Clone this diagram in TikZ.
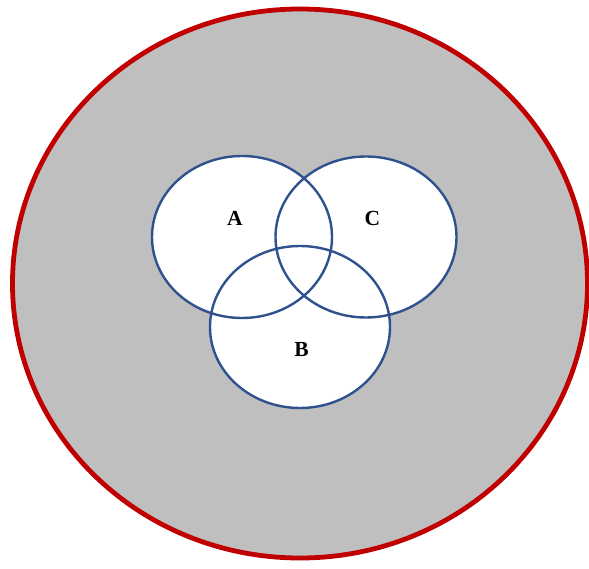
\documentclass[tikz,border=0pt]{standalone}
\usepackage{fontspec}
\setmainfont{Liberation Serif}
\definecolor{outerred}{RGB}{192,0,0}
\definecolor{setblue}{RGB}{47,82,143}
\definecolor{bggray}{RGB}{191,191,191}
\begin{document}
\begin{tikzpicture}[x=1pt,y=-1pt,
  setline/.style={draw=setblue,line width=2.4pt},
  setlabel/.style={font=\bfseries\fontsize{21.5}{23}\selectfont,inner sep=0pt}]
\useasboundingbox (0,0) rectangle (589,569);
\draw[fill=bggray,draw=outerred,line width=4.8pt] (300,283.5) ellipse [x radius=287.5, y radius=274.5];
% white fills
\fill[white] (242,237) ellipse [x radius=90, y radius=81];
\fill[white] (366,237) ellipse [x radius=90.5, y radius=80.5];
\fill[white] (300,327) ellipse [x radius=90, y radius=81];
% outlines
\draw[setline] (242,237) ellipse [x radius=90, y radius=81];
\draw[setline] (366,237) ellipse [x radius=90.5, y radius=80.5];
\draw[setline] (300,327) ellipse [x radius=90, y radius=81];
\node[setlabel] (A) at (235,218.5) {A};
\node[setlabel] (C) at (372.5,218.5) {C};
\node[setlabel] (B) at (301.5,349) {B};
\end{tikzpicture}
\end{document}
